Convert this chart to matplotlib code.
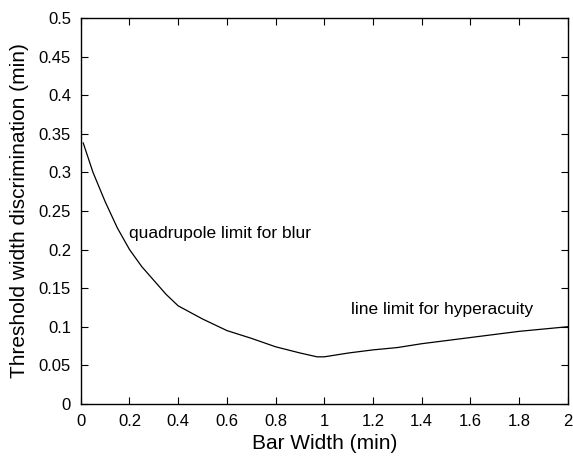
import numpy as np
import matplotlib
matplotlib.use("Agg")
import matplotlib.pyplot as plt

plt.rcParams['font.family'] = ['Liberation Sans', 'DejaVu Sans']

# curve
bar_width = [0.01, 0.05, 0.1, 0.15, 0.2, 0.25, 0.3, 0.35, 0.4, 0.5, 0.6, 0.7,
             0.8, 0.9, 0.97, 1.0, 1.1, 1.2, 1.3, 1.4, 1.5, 1.6, 1.7, 1.8, 1.9, 2.0]
threshold = [0.338, 0.300, 0.262, 0.228, 0.200, 0.178, 0.160, 0.142, 0.127,
             0.110, 0.095, 0.085, 0.074, 0.066, 0.061, 0.061, 0.066, 0.070, 0.073,
             0.078, 0.082, 0.086, 0.090, 0.094, 0.097, 0.100]

fig = plt.figure(figsize=(5.73, 4.59), dpi=100)
ax = fig.add_axes([0.141, 0.12, 0.850, 0.841])

ax.plot(bar_width, threshold, color='black', linewidth=0.9)

ax.text(0.2, 0.221, 'quadrupole limit for blur', fontsize=12.5, va='center')
ax.text(1.11, 0.122, 'line limit for hyperacuity', fontsize=12.5, va='center')

ax.set_xlim(0, 2)
ax.set_ylim(0, 0.5)
ax.set_xticks(np.arange(0, 2.01, 0.2))
ax.set_xticklabels(['0', '0.2', '0.4', '0.6', '0.8', '1', '1.2', '1.4', '1.6', '1.8', '2'])
ax.set_yticks(np.arange(0, 0.501, 0.05))
ax.set_yticklabels(['0', '0.05', '0.1', '0.15', '0.2', '0.25', '0.3', '0.35', '0.4', '0.45', '0.5'])
ax.tick_params(direction='in', top=True, right=True, length=5, labelsize=12, pad=7)
for s in ax.spines.values():
    s.set_linewidth(1.0)

ax.set_xlabel('Bar Width (min)', fontsize=15, labelpad=4)
ax.set_ylabel('Threshold width discrimination (min)', fontsize=15, labelpad=7)

fig.savefig('out.png', dpi=100)
